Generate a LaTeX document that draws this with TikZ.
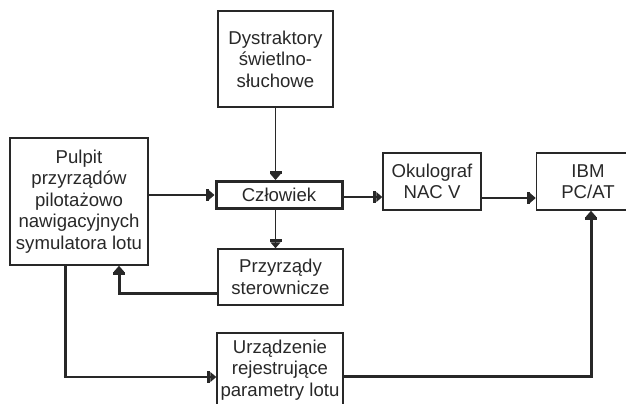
\documentclass[tikz,border=0pt]{standalone}
\usepackage{fontspec}
\setmainfont{Liberation Sans}
\usetikzlibrary{arrows.meta}
\definecolor{lineclr}{RGB}{40,40,40}
\tikzset{
    box/.style={draw=lineclr, line width=0.75pt, inner sep=0pt, align=center,
        font=\fontsize{9.3}{10.8}\selectfont, text=lineclr},
    tip/.style={-{Bar[width=6pt,line width=1.5pt,sep=0pt]Triangle[length=3pt,width=5pt]}},
    thin/.style={draw=lineclr, line width=0.6pt},
    heavy/.style={draw=lineclr, line width=1.5pt}
}
\begin{document}
\begin{tikzpicture}[x=0.5pt,y=-0.5pt]
        \useasboundingbox (0,0) rectangle (626,403);
        \clip (0,0) rectangle (626,403);

        \node[box, minimum width=57.5pt, minimum height=48pt] (dyst) at (275.5,59) {Dystraktory\\świetlno-\\słuchowe};
        \node[box, minimum width=69pt, minimum height=63.5pt] (pulpit) at (79,201.5) {Pulpit\\przyrządów\\pilotażowo\\nawigacyjnych\\symulatora lotu};
        \node[box, line width=1.5pt, minimum width=63pt, minimum height=13.5pt] (czl) at (279,195) {Człowiek};
        \node[box, minimum width=49pt, minimum height=28.5pt] (okul) at (432,181.5) {Okulograf\\NAC V};
        \node[box, minimum width=51.5pt, minimum height=28.5pt] (ibm) at (588,181.5) {IBM\\PC/AT};
        \node[box, minimum width=62.5pt, minimum height=28pt] (przy) at (280.5,277) {Przyrządy\\sterownicze};
        \node[box, minimum width=63pt, minimum height=37pt] (urz) at (280,370) {Urządzenie\\rejestrujące\\parametry lotu};

        \draw[thin, tip] (dyst.south) -- (dyst.south |- czl.north);
        \draw[thin, tip] (pulpit.east |- czl) -- (czl.west);
        \draw[thin, tip] ([yshift=-1pt]czl.east) -- ([yshift=-1pt]czl.east -| okul.west);
        \draw[thin, tip] ([yshift=-1.5pt]okul.east |- czl) -- ([yshift=-1.5pt]ibm.west |- czl);
        \draw[thin, tip] (czl.south -| dyst.south) -- (dyst.south |- przy.north);

        \draw[heavy, tip] ([yshift=-8pt]przy.west) -| ([xshift=20pt]pulpit.south);
        \draw[heavy] ([xshift=-7pt]pulpit.south) -- ([xshift=-7pt,yshift=-3.5pt]pulpit.south |- urz.west) coordinate (corner);
        \draw[thin, tip] ([xshift=-0.7pt]corner) -- ([yshift=-3.5pt]urz.west);
        \draw[heavy, tip] ([yshift=-3pt]urz.east) -| ([xshift=1.5pt]ibm.south);
\end{tikzpicture}
\end{document}
